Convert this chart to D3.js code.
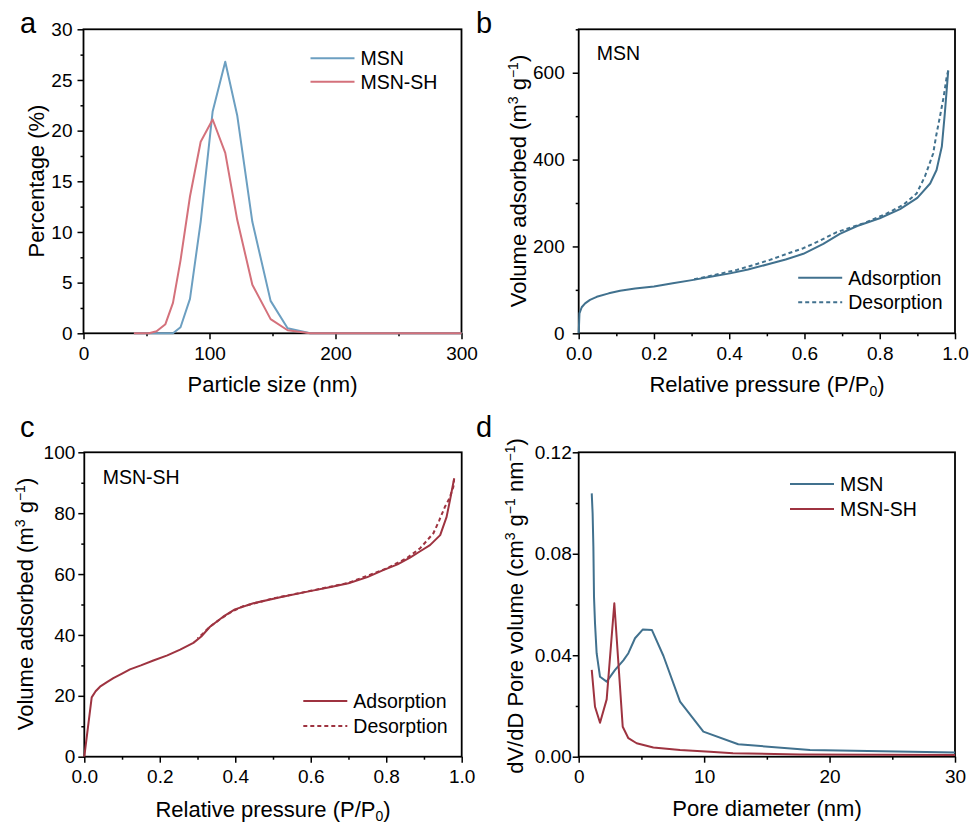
<!DOCTYPE html>
<html>
<head>
<meta charset="utf-8">
<script src="https://cdn.jsdelivr.net/npm/d3@7"></script>
<style>
  body { margin: 0; background: #fff; }
  svg text { font-family: "Liberation Sans", Arial, sans-serif; fill: #000; }
</style>
</head>
<body>
<div id="fig"></div>
<script>
// ---- panel a: particle size distribution ----
const sizeNm   = [40, 46, 52, 58, 65, 71, 77, 84.5, 93, 102.5, 112.5, 122, 134, 148.5, 162, 180, 200, 230, 260, 300];
const msnPct   = [0, 0, 0, 0, 0, 0, 0.6, 3.4, 11.0, 21.9, 26.8, 21.5, 11.0, 3.2, 0.5, 0, 0, 0, 0, 0];
const msnShPct = [0, 0, 0, 0.2, 0.9, 3.0, 7.2, 13.5, 18.9, 21.1, 17.8, 11.2, 4.8, 1.4, 0.3, 0, 0, 0, 0, 0];

// ---- panel b: MSN isotherm ----
const msnAdsP = [0, 0.002, 0.008, 0.017, 0.03, 0.048, 0.08, 0.11, 0.15, 0.2, 0.25, 0.305, 0.35, 0.402, 0.45, 0.508, 0.55, 0.597, 0.65, 0.694, 0.74, 0.8, 0.854, 0.9, 0.934, 0.951, 0.965, 0.973, 0.982];
const msnAdsV = [0, 46, 60, 69, 77, 84, 92, 98, 103, 108, 115, 123, 130, 138, 147, 160, 170, 183, 206, 229, 247, 265, 286, 312, 345, 376, 430, 507, 605];
const msnDesP = [0.982, 0.978, 0.97, 0.96, 0.95, 0.942, 0.93, 0.92, 0.898, 0.863, 0.819, 0.756, 0.686, 0.64, 0.597, 0.55, 0.508, 0.46, 0.42, 0.38, 0.349, 0.3];
const msnDesV = [605, 591, 545, 499, 455, 414, 385, 361, 322, 296, 276, 253, 233, 213, 196, 182, 169, 156, 146, 138, 132, 123];

// ---- panel c: MSN-SH isotherm ----
const shAdsP = [0, 0.0196, 0.03, 0.0416, 0.06, 0.077, 0.1, 0.121, 0.15, 0.183, 0.22, 0.254, 0.289, 0.31, 0.333, 0.368, 0.399, 0.448, 0.519, 0.598, 0.65, 0.7, 0.75, 0.792, 0.83, 0.863, 0.89, 0.916, 0.943, 0.96, 0.969, 0.98];
const shAdsV = [0, 19.5, 21.5, 23, 24.5, 25.8, 27.3, 28.7, 30, 31.6, 33.3, 35.2, 37.4, 39.5, 42.7, 46, 48.4, 50.4, 52.4, 54.4, 55.7, 57.0, 59.0, 61.3, 63.2, 65.4, 67.5, 69.5, 72.8, 78.8, 84.3, 91.4];
const shDesP = [0.98, 0.978, 0.968, 0.956, 0.94, 0.925, 0.89, 0.854, 0.8, 0.7, 0.6, 0.5, 0.42, 0.39, 0.36, 0.333, 0.3];
const shDesV = [91.4, 88.7, 85, 82.2, 77.5, 73.4, 68.5, 65.2, 61.8, 57.1, 54.5, 52, 49.4, 47.6, 45.2, 42.7, 38.8];

// ---- panel d: pore size distribution ----
const msnPoreD = [1.04, 1.11, 1.17, 1.22, 1.30, 1.43, 1.70, 2.23, 2.9, 3.56, 3.96, 4.49, 5.1, 5.84, 6.75, 8.08, 9.94, 12.72, 18.44, 30];
const msnPoreV = [0.1038, 0.0959, 0.0828, 0.0631, 0.0526, 0.0408, 0.0315, 0.0296, 0.0342, 0.0380, 0.0408, 0.0467, 0.0501, 0.0499, 0.0398, 0.0217, 0.0099, 0.0049, 0.0026, 0.0017];
const shPoreD  = [1.04, 1.30, 1.70, 2.23, 2.84, 3.51, 3.96, 4.62, 5.95, 8.08, 10.47, 12.3, 17.6, 30];
const shPoreV  = [0.0342, 0.0197, 0.0134, 0.0226, 0.0605, 0.0118, 0.0073, 0.0053, 0.0036, 0.0026, 0.0020, 0.0014, 0.0009, 0.0007];

const zip = (xs, ys) => xs.map((x, i) => [x, ys[i]]);

const svg = d3.select("#fig").append("svg")
    .attr("width", 971)
    .attr("height", 825);

// draw a framed panel with outward major + minor ticks
function panel(opt) {
  const g = svg.append("g").attr("transform", `translate(${opt.left},${opt.top})`);
  const x = d3.scaleLinear().domain(opt.xDomain).range([0, opt.width]);
  const y = d3.scaleLinear().domain(opt.yDomain).range([opt.height, 0]);

  // minor ticks
  g.append("g")
      .attr("transform", `translate(0,${opt.height})`)
      .call(d3.axisBottom(x).tickValues(opt.xMinor).tickFormat("").tickSize(3).tickSizeOuter(0))
      .call(s => s.select(".domain").remove());
  g.append("g")
      .call(d3.axisLeft(y).tickValues(opt.yMinor).tickFormat("").tickSize(3).tickSizeOuter(0))
      .call(s => s.select(".domain").remove());

  // major ticks + labels
  const xa = g.append("g")
      .attr("transform", `translate(0,${opt.height})`)
      .call(d3.axisBottom(x).tickValues(opt.xTicks).tickFormat(opt.xFormat).tickSize(6).tickSizeOuter(0).tickPadding(7));
  const ya = g.append("g")
      .call(d3.axisLeft(y).tickValues(opt.yTicks).tickFormat(opt.yFormat).tickSize(6).tickSizeOuter(0).tickPadding(opt.yPad));
  [xa, ya].forEach(a => {
    a.attr("font-size", null).attr("font-family", null);
    a.selectAll("text").style("font-size", "19px");
    a.select(".domain").remove();
  });
  g.selectAll(".tick line").attr("stroke", "#000").attr("stroke-width", 1.5);

  // frame
  g.append("rect")
      .attr("width", opt.width)
      .attr("height", opt.height)
      .attr("fill", "none")
      .attr("stroke", "#000")
      .attr("stroke-width", 1.8);

  return {g, x, y};
}

function drawLine(p, data, color, dash) {
  const line = d3.line().x(d => p.x(d[0])).y(d => p.y(d[1]));
  p.g.append("path")
      .datum(data)
      .attr("d", line)
      .attr("fill", "none")
      .attr("stroke", color)
      .attr("stroke-width", 2)
      .attr("stroke-linejoin", "round")
      .attr("stroke-dasharray", dash || null);
}

function legend(p, items, lx, ly, gap) {
  items.forEach((it, i) => {
    const yy = ly + i * gap;
    p.g.append("line")
        .attr("x1", lx).attr("x2", lx + 44)
        .attr("y1", yy).attr("y2", yy)
        .attr("stroke", it.color)
        .attr("stroke-width", 2)
        .attr("stroke-dasharray", it.dash || null);
    p.g.append("text")
        .attr("x", lx + 50).attr("y", yy)
        .attr("dy", "0.36em")
        .style("font-size", "19.5px")
        .text(it.label);
  });
}

function title(x, y, rotate, parts) {
  const t = svg.append("text")
      .attr("text-anchor", "middle")
      .style("font-size", "22px")
      .attr("transform", `translate(${x},${y})` + (rotate ? " rotate(-90)" : ""));
  parts.forEach(pt => {
    const s = t.append("tspan").text(pt.t);
    if (pt.sup) s.style("font-size", "14px").attr("baseline-shift", "55%");
    if (pt.sub) s.style("font-size", "14px").attr("baseline-shift", "-30%");
  });
}

function letter(x, y, s) {
  svg.append("text").attr("x", x).attr("y", y).style("font-size", "29px").text(s);
}

const blueA = "#6c9fc1", redA = "#d4717b";
const blue = "#41718e", red = "#9e3340";
const fmt1 = d3.format(".1f");

// a
const pa = panel({
  left: 83.5, top: 29.3, width: 378, height: 304,
  xDomain: [0, 300], yDomain: [0, 30],
  xTicks: [0, 100, 200, 300], xMinor: [50, 150, 250],
  yTicks: [0, 5, 10, 15, 20, 25, 30], yMinor: [2.5, 7.5, 12.5, 17.5, 22.5, 27.5],
  xFormat: d3.format("d"), yFormat: d3.format("d"), yPad: 5
});
drawLine(pa, zip(sizeNm, msnPct), blueA);
drawLine(pa, zip(sizeNm, msnShPct), redA);
legend(pa, [{label: "MSN", color: blueA}, {label: "MSN-SH", color: redA}], 227, 29, 23.4);

// b
const pb = panel({
  left: 578.7, top: 29.3, width: 376.3, height: 304,
  xDomain: [0, 1], yDomain: [0, 700],
  xTicks: [0, 0.2, 0.4, 0.6, 0.8, 1.0], xMinor: [0.1, 0.3, 0.5, 0.7, 0.9],
  yTicks: [0, 200, 400, 600], yMinor: [100, 300, 500, 700],
  xFormat: fmt1, yFormat: d3.format("d"), yPad: 8
});
drawLine(pb, zip(msnDesP, msnDesV), blue, "4,3");
drawLine(pb, zip(msnAdsP, msnAdsV), blue);
legend(pb, [{label: "Adsorption", color: blue}, {label: "Desorption", color: blue, dash: "4,3"}], 219.5, 248.4, 24.6);
pb.g.append("text").attr("x", 18).attr("y", 24).attr("dy", "0.36em").style("font-size", "19.5px").text("MSN");

// c
const pc = panel({
  left: 84.3, top: 452.3, width: 377.4, height: 304.4,
  xDomain: [0, 1], yDomain: [0, 100],
  xTicks: [0, 0.2, 0.4, 0.6, 0.8, 1.0], xMinor: [0.1, 0.3, 0.5, 0.7, 0.9],
  yTicks: [0, 20, 40, 60, 80, 100], yMinor: [10, 30, 50, 70, 90],
  xFormat: fmt1, yFormat: d3.format("d"), yPad: 3
});
drawLine(pc, zip(shDesP, shDesV), red, "4,3");
drawLine(pc, zip(shAdsP, shAdsV), red);
legend(pc, [{label: "Adsorption", color: red}, {label: "Desorption", color: red, dash: "4,3"}], 219, 248.7, 25);
pc.g.append("text").attr("x", 18.4).attr("y", 24.4).attr("dy", "0.36em").style("font-size", "19.5px").text("MSN-SH");

// d
const pd = panel({
  left: 578.7, top: 452.3, width: 376.3, height: 304.4,
  xDomain: [0, 30], yDomain: [0, 0.12],
  xTicks: [0, 10, 20, 30], xMinor: [5, 15, 25],
  yTicks: [0, 0.04, 0.08, 0.12], yMinor: [0.02, 0.06, 0.10],
  xFormat: d3.format("d"), yFormat: d3.format(".2f"), yPad: 1
});
drawLine(pd, zip(msnPoreD, msnPoreV), blue);
drawLine(pd, zip(shPoreD, shPoreV), red);
legend(pd, [{label: "MSN", color: blue}, {label: "MSN-SH", color: red}], 211.3, 31.7, 25);

// axis titles
title(272.5, 392, false, [{t: "Particle size (nm)"}]);
title(44, 181, true, [{t: "Percentage (%)"}]);
title(767, 392, false, [{t: "Relative pressure (P/P"}, {t: "0", sub: true}, {t: ")"}]);
title(526, 181, true, [{t: "Volume adsorbed (m"}, {t: "3", sup: true}, {t: " g"}, {t: "−1", sup: true}, {t: ")"}]);
title(273, 817, false, [{t: "Relative pressure (P/P"}, {t: "0", sub: true}, {t: ")"}]);
title(33, 604, true, [{t: "Volume adsorbed (m"}, {t: "3", sup: true}, {t: " g"}, {t: "−1", sup: true}, {t: ")"}]);
title(767, 816, false, [{t: "Pore diameter (nm)"}]);
title(523, 606, true, [{t: "dV/dD Pore volume (cm"}, {t: "3", sup: true}, {t: " g"}, {t: "−1", sup: true}, {t: " nm"}, {t: "−1", sup: true}, {t: ")"}]);

// panel letters
letter(20, 33, "a");
letter(476, 33, "b");
letter(20, 437, "c");
letter(476, 437, "d");
</script>
</body>
</html>
